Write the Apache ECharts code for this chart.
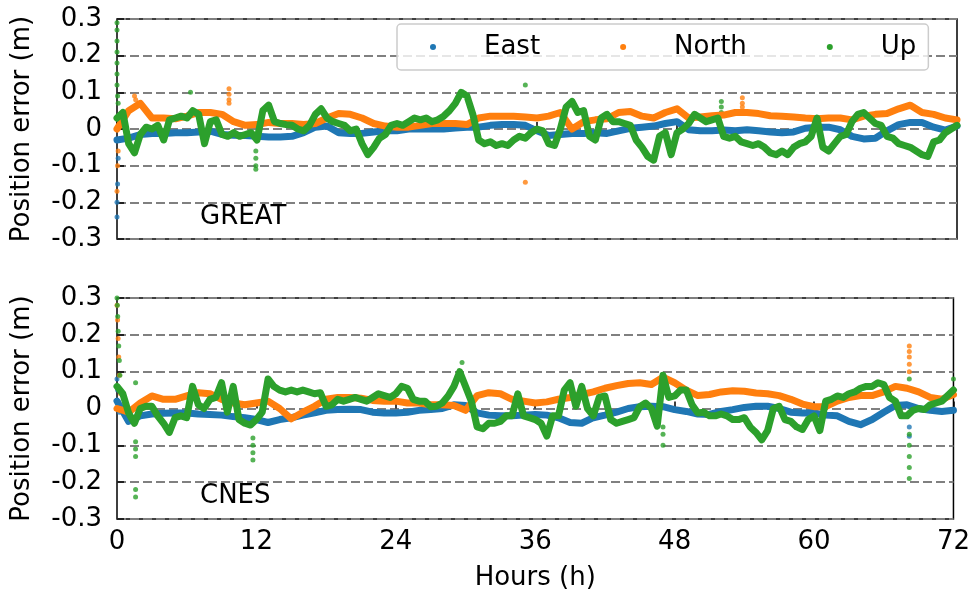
<!DOCTYPE html>
<html>
<head>
<meta charset="utf-8">
<script src="https://cdn.jsdelivr.net/npm/echarts/dist/echarts.min.js"></script>
<style>
  html, body { margin: 0; padding: 0; background: #fff; }
  #chart { width: 973px; height: 592px; }
</style>
</head>
<body>
<div id="chart"></div>
<script>
// hourly samples (East, North) and half-hourly samples (Up)
const HOUR_STEP = 1
const UP_STEP = 0.5

const xTicks = [0, 12, 24, 36, 48, 60, 72]
const yTicks = [-0.3, -0.2, -0.1, 0, 0.1, 0.2, 0.3]

// ---- GREAT (top panel) ----
const greatEast = [
  -0.03, -0.025, -0.015, -0.012, -0.012, -0.01, -0.01, -0.008, -0.006, -0.015, -0.017, -0.018,
  -0.02, -0.022, -0.022, -0.02, -0.01, 0.005, 0.008, -0.01, -0.012, -0.012, -0.008, -0.005,
  -0.005, 0, 0, 0, 0, 0.003, 0.005, 0.005, 0.01, 0.012, 0.012, 0.01,
  -0.005, -0.018, -0.015, -0.012, -0.012, -0.01, -0.012, -0.005, 0.002, 0.005, 0.008, 0.015,
  0.02, -0.002, -0.005, -0.005, -0.003, -0.005, -0.002, -0.005, -0.008, -0.01, -0.008, 0.002,
  0.005, 0.005, -0.002, -0.02, -0.027, -0.025, -0.005, 0.012, 0.018, 0.018, 0.005, -0.003,
  0.008
]
const greatNorth = [
  0.0, 0.05, 0.07, 0.03, 0.03, 0.028, 0.035, 0.045, 0.045, 0.04, 0.02, 0.01,
  0.012, 0.018, 0.015, 0.015, 0.012, 0.015, 0.03, 0.042, 0.04, 0.03, 0.015, 0.008,
  0.005, 0.005, 0.01, 0.015, 0.015, 0.015, 0.012, 0.03, 0.035, 0.035, 0.035, 0.033,
  0.03, 0.035, 0.045, 0.0, 0.02, 0.025, 0.028, 0.045, 0.048, 0.035, 0.03, 0.045,
  0.055, 0.03, 0.033, 0.036, 0.038, 0.045, 0.045, 0.042, 0.036, 0.035, 0.033, 0.03,
  0.028, 0.03, 0.03, 0.025, 0.035, 0.04, 0.042, 0.055, 0.065, 0.045, 0.04, 0.03,
  0.025
]
const greatUp = [
  0.03, 0.045, -0.04, -0.065, -0.015, 0.005, 0.0, 0.01, -0.03, 0.025, 0.03, 0.035,
  0.03, 0.05, 0.04, -0.04, 0.02, 0.025, -0.015, -0.02, -0.01, -0.02, -0.015, -0.01,
  -0.03, 0.05, 0.065, 0.02, 0.015, 0.012, 0.01, 0.0, -0.005, 0.01, 0.04, 0.055,
  0.03, 0.02, 0.015, 0.01, -0.005, 0.0, -0.04, -0.07, -0.05, -0.025, -0.015, 0.01,
  0.015, 0.01, 0.02, 0.03, 0.025, 0.03, 0.02, 0.025, 0.035, 0.05, 0.07, 0.1,
  0.09, 0.04, -0.03, -0.04, -0.035, -0.045, -0.04, -0.045, -0.03, -0.02, -0.025, -0.01,
  0.0, -0.005, -0.04, -0.045, 0.0, 0.06, 0.075, 0.045, 0.05, -0.02, -0.03, 0.03,
  0.04, 0.02, 0.02, 0.015, 0.01, -0.03, -0.05, -0.075, -0.085, -0.02, -0.01, -0.07,
  -0.01, 0.0, 0.015, 0.04, 0.03, 0.02, 0.025, 0.03, -0.02, -0.025, -0.02, -0.035,
  -0.04, -0.045, -0.04, -0.05, -0.065, -0.07, -0.06, -0.07, -0.05, -0.04, -0.035, -0.02,
  0.03, -0.05, -0.06, -0.04, -0.02, -0.015, 0.02, 0.04, 0.045, 0.03, 0.015, 0.01,
  -0.02, -0.025, -0.04, -0.045, -0.05, -0.06, -0.07, -0.075, -0.035, -0.03, -0.01, 0.0,
  0.01
]
// isolated epochs [hour, value]
const greatEastOut = [[0, -0.24], [0, -0.2], [0.05, -0.15], [0.1, -0.08]]
const greatNorthOut = [[0, -0.17], [0.05, -0.1], [0.1, -0.06], [1.5, 0.09], [1.6, 0.08],
  [9.6, 0.11], [9.6, 0.095], [9.6, 0.08], [9.6, 0.07], [35, -0.145],
  [53.6, 0.085], [53.6, 0.07], [53.6, 0.06]]
const greatUpOut = [[0, 0.29], [0, 0.27], [0, 0.24], [0, 0.21], [0, 0.18], [0, 0.15], [0, 0.12],
  [0.05, 0.09], [0.1, 0.07], [6.3, 0.1], [35, 0.12], [11.9, -0.06], [11.9, -0.08],
  [11.9, -0.1], [11.9, -0.11], [51.8, 0.075], [51.8, 0.06], [51.8, 0.045]]

// ---- CNES (bottom panel) ----
const cnesEast = [
  0.02, -0.035, -0.02, -0.015, -0.013, -0.012, -0.012, -0.015, -0.016, -0.018, -0.022, -0.025,
  -0.03, -0.038, -0.03, -0.025, -0.018, -0.012, -0.005, -0.003, -0.002, -0.003, -0.01, -0.012,
  -0.012, -0.01, -0.005, -0.003, 0.0, 0.01, 0.008, -0.012, -0.018, -0.02, -0.02, -0.018,
  -0.016, -0.018, -0.025, -0.038, -0.04, -0.025, -0.018, -0.01, 0.0, 0.005, 0.006, 0.005,
  -0.003, -0.008, -0.015, -0.016, -0.008, -0.003, 0.003, 0.006, 0.006, 0.0, -0.01, -0.012,
  -0.012, -0.018, -0.02, -0.035, -0.044, -0.03, -0.01, 0.008, 0.01, 0.0, -0.005, -0.008,
  -0.005
]
const cnesNorth = [
  0.0, -0.01, 0.015, 0.034, 0.025, 0.025, 0.034, 0.043, 0.04, 0.025, 0.015, 0.01,
  0.015, 0.02, 0.0, -0.028, -0.01, 0.006, 0.025, 0.03, 0.03, 0.028, 0.022, 0.02,
  0.02, 0.015, 0.015, 0.01, 0.01, 0.008, -0.005, 0.035, 0.043, 0.04, 0.025, 0.02,
  0.015, 0.018, 0.025, 0.03, 0.038, 0.045, 0.055, 0.062, 0.068, 0.07, 0.065, 0.085,
  0.07, 0.05, 0.035, 0.038, 0.045, 0.048, 0.047, 0.042, 0.04, 0.035, 0.025, 0.012,
  0.005, 0.005, 0.02, 0.03, 0.035, 0.035, 0.045, 0.06, 0.055, 0.045, 0.03, 0.025,
  0.038
]
const cnesUp = [
  0.06, 0.04, -0.012, -0.04, 0.0, 0.006, 0.006, -0.02, -0.04, -0.065, -0.025, -0.02,
  -0.025, 0.06, 0.01, 0.0, 0.025, 0.03, 0.07, -0.01, 0.06, -0.03, -0.04, -0.045,
  -0.03, -0.01, 0.08, 0.06, 0.05, 0.045, 0.05, 0.045, 0.05, 0.045, 0.04, 0.043,
  0.006, 0.01, 0.025, 0.02, 0.025, 0.03, 0.025, 0.02, 0.03, 0.04, 0.035, 0.03,
  0.04, 0.06, 0.055, 0.025, 0.02, 0.02, 0.005, 0.006, 0.015, 0.034, 0.06, 0.1,
  0.06, 0.02, -0.05, -0.055, -0.04, -0.04, -0.035, -0.02, -0.02, 0.04, -0.02, -0.025,
  -0.03, -0.04, -0.075, -0.02, -0.02, 0.05, 0.07, 0.006, 0.06, 0.0, -0.02, 0.03,
  0.034, -0.03, -0.04, -0.035, -0.03, -0.025, 0.005, 0.015, 0.0, -0.048, 0.09, 0.03,
  0.034, 0.05, 0.05, 0.01, -0.012, -0.01, -0.02, -0.02, -0.015, -0.02, -0.03, -0.03,
  -0.025, -0.05, -0.065, -0.085, -0.06, 0.0, 0.006, -0.03, -0.035, -0.05, -0.057, -0.03,
  -0.02, -0.06, 0.02, 0.025, 0.034, 0.03, 0.04, 0.045, 0.055, 0.06, 0.06, 0.07,
  0.065, 0.03, 0.02, -0.02, -0.02, -0.005, 0.0, -0.003, 0.01, 0.015, 0.02, 0.035,
  0.05
]
const cnesEastOut = [[0, 0.08], [0.05, 0.05], [0.1, 0.02], [0.2, -0.01], [68.2, -0.05], [68.2, -0.075]]
const cnesNorthOut = [[0, 0.28], [0.05, 0.24], [0.1, 0.19], [0.15, 0.14], [0.2, 0.09], [0.3, 0.04],
  [68.2, 0.17], [68.2, 0.155], [68.2, 0.14], [68.2, 0.12], [68.2, 0.1]]
const cnesUpOut = [[0, 0.3], [0.03, 0.28], [0.06, 0.25], [0.1, 0.21], [0.15, 0.17], [0.2, 0.13], [0.25, 0.09],
  [1.6, 0.07], [1.6, -0.09], [1.6, -0.11], [1.6, -0.13], [1.6, -0.22], [1.6, -0.24],
  [11.7, -0.08], [11.7, -0.1], [11.7, -0.12], [11.7, -0.14], [29.7, 0.125],
  [47, -0.05], [47, -0.07], [47, -0.1], [68.2, 0.08], [68.2, -0.07], [68.2, -0.1],
  [68.2, -0.13], [68.2, -0.16], [68.2, -0.19], [72, 0.08]]

const COLORS = { East: '#1f77b4', North: '#ff7f0e', Up: '#2ca02c' }
const FONT = 'DejaVu Sans'
const FS = 26

const toPoints = (values, step) => values.map((v, i) => [i * step, v])

const lineSeries = (name, values, step, idx) => ({
  name,
  type: 'line',
  xAxisIndex: idx,
  yAxisIndex: idx,
  data: toPoints(values, step),
  showSymbol: false,
  color: COLORS[name],
  lineStyle: { width: 7, color: COLORS[name], join: 'round', cap: 'round' },
  animation: false
})

const dotSeries = (name, points, idx) => ({
  name,
  type: 'scatter',
  xAxisIndex: idx,
  yAxisIndex: idx,
  data: points,
  symbolSize: 5,
  itemStyle: { color: COLORS[name] },
  animation: false
})

const makeX = (idx, showLabels) => ({
  type: 'value',
  gridIndex: idx,
  min: xTicks[0],
  max: xTicks[xTicks.length - 1],
  interval: 12,
  axisLine: { show: false },
  axisTick: { show: true, inside: true, length: 7, lineStyle: { color: '#000', width: 1.5 } },
  axisLabel: { show: showLabels, fontSize: FS, color: '#000', fontFamily: FONT, margin: 10 },
  splitLine: { show: false },
  name: showLabels ? 'Hours (h)' : '',
  nameLocation: 'middle',
  nameGap: 46,
  nameTextStyle: { fontSize: FS, color: '#000', fontFamily: FONT }
})

const makeY = (idx) => ({
  type: 'value',
  gridIndex: idx,
  min: yTicks[0],
  max: yTicks[yTicks.length - 1],
  interval: 0.1,
  axisLine: { show: false },
  axisTick: { show: true, inside: true, length: 7, lineStyle: { color: '#000', width: 1.5 } },
  axisLabel: {
    fontSize: FS, color: '#000', fontFamily: FONT, margin: 15,
    formatter: v => String(+v.toFixed(1))
  },
  splitLine: { show: true, lineStyle: { color: '#808080', width: 2, type: [9, 4] } },
  name: 'Position error (m)',
  nameLocation: 'middle',
  nameGap: 82,
  nameTextStyle: { fontSize: FS, color: '#000', fontFamily: FONT }
})

const chart = echarts.init(document.getElementById('chart'), null, { renderer: 'canvas' })

chart.setOption({
  animation: false,
  backgroundColor: '#fff',
  grid: [
    { left: 117, width: 840, top: 19, height: 220, show: true, borderColor: '#000', borderWidth: 1.5, backgroundColor: 'transparent' },
    { left: 117, width: 840, top: 298, height: 221, show: true, borderColor: '#000', borderWidth: 1.5, backgroundColor: 'transparent' }
  ],
  xAxis: [makeX(0, false), makeX(1, true)],
  yAxis: [makeY(0), makeY(1)],
  legend: {
    data: ['East', 'North', 'Up'],
    left: 397,
    top: 24,
    icon: 'circle',
    itemWidth: 6,
    itemHeight: 6,
    itemGap: 80,
    padding: [10, 12, 10, 33],
    backgroundColor: 'rgba(255,255,255,0.8)',
    borderColor: '#cccccc',
    borderWidth: 1.5,
    borderRadius: 4,
    textStyle: { fontSize: FS, color: '#000', fontFamily: FONT, padding: [0, 0, 0, 43] }
  },
  graphic: [
    { type: 'text', left: 200, top: 204, style: { text: 'GREAT', fontSize: FS, fill: '#000', fontFamily: FONT } },
    { type: 'text', left: 200, top: 483, style: { text: 'CNES', fontSize: FS, fill: '#000', fontFamily: FONT } }
  ],
  series: [
    lineSeries('East', greatEast, HOUR_STEP, 0),
    dotSeries('East', greatEastOut, 0),
    lineSeries('North', greatNorth, HOUR_STEP, 0),
    dotSeries('North', greatNorthOut, 0),
    lineSeries('Up', greatUp, UP_STEP, 0),
    dotSeries('Up', greatUpOut, 0),
    lineSeries('East', cnesEast, HOUR_STEP, 1),
    dotSeries('East', cnesEastOut, 1),
    lineSeries('North', cnesNorth, HOUR_STEP, 1),
    dotSeries('North', cnesNorthOut, 1),
    lineSeries('Up', cnesUp, UP_STEP, 1),
    dotSeries('Up', cnesUpOut, 1)
  ]
})
</script>
</body>
</html>
